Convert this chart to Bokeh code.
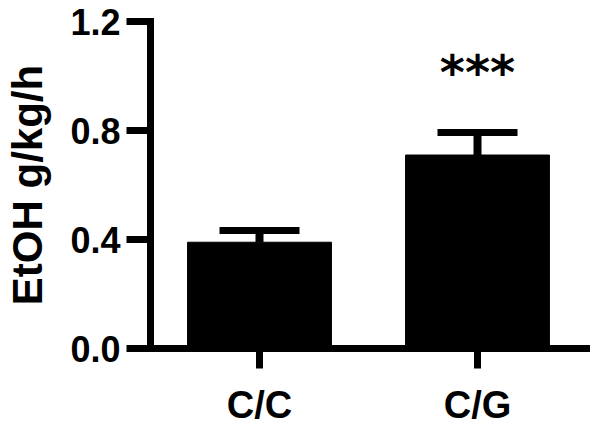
from bokeh.plotting import figure
from bokeh.models import FactorRange, Range1d, FixedTicker, ColumnDataSource, Whisker, TeeHead
from bokeh.core.properties import value
from bokeh.embed import file_html
from bokeh.resources import INLINE

# data
genotypes = ["C/C", "C/G"]
etoh_mean = [0.39, 0.71]
etoh_sem = [0.043, 0.083]
significance = ["", "***"]
y_ticks = [0.0, 0.4, 0.8, 1.2]
y_tick_labels = ["0.0", "0.4", "0.8", "1.2"]

upper = [m + s for m, s in zip(etoh_mean, etoh_sem)]
src = ColumnDataSource(dict(x=genotypes, top=etoh_mean, upper=upper, sig=significance,
                            sig_y=[u + 0.22 for u in upper]))

FONT = "Liberation Sans"

p = figure(width=600, height=433, output_backend="svg", toolbar_location=None,
           x_range=FactorRange(factors=genotypes, range_padding=0),
           y_range=Range1d(0, 1.2),
           min_border_left=150, min_border_right=14, min_border_top=21, min_border_bottom=85)
p.outline_line_color = None
p.background_fill_color = "white"
p.border_fill_color = "white"
p.xgrid.visible = False
p.ygrid.visible = False

p.vbar(x="x", top="top", bottom=0, width=0.66, source=src,
       fill_color="black", line_color="black")

w = Whisker(base="x", lower="top", upper="upper", source=src,
            line_color="black", line_width=8, lower_head=None,
            upper_head=TeeHead(size=80, line_color="black", line_width=7))
p.add_layout(w)

p.text(x="x", y="sig_y", text="sig", source=src, text_align="center",
       text_baseline="alphabetic", text_font=value("DejaVu Sans"),
       text_font_style="bold", text_font_size="48px", text_color="black")

for ax in (p.xaxis[0], p.yaxis[0]):
    ax.axis_line_width = 7
    ax.axis_line_color = "black"
    ax.axis_line_cap = "square"
    ax.major_tick_line_width = 7
    ax.major_tick_line_color = "black"
    ax.major_tick_in = 0
    ax.minor_tick_line_color = None
    ax.major_label_text_font = FONT
    ax.major_label_text_font_style = "bold"
    ax.major_label_text_color = "black"

p.yaxis.ticker = FixedTicker(ticks=y_ticks)
p.yaxis.major_label_overrides = {t: l for t, l in zip(y_ticks, y_tick_labels)}
p.yaxis.major_tick_out = 24
p.yaxis.major_label_standoff = 6
p.yaxis.major_label_text_font_size = "36px"
p.yaxis.axis_label = "EtOH g/kg/h"
p.yaxis.axis_label_text_font = FONT
p.yaxis.axis_label_text_font_style = "bold"
p.yaxis.axis_label_text_font_size = "42px"
p.yaxis.axis_label_text_color = "black"
p.yaxis.axis_label_standoff = 16

p.xaxis.major_tick_out = 20
p.xaxis.major_label_standoff = 15
p.xaxis.major_label_text_font_size = "38px"

open("out.html", "w").write(file_html(p, INLINE))
